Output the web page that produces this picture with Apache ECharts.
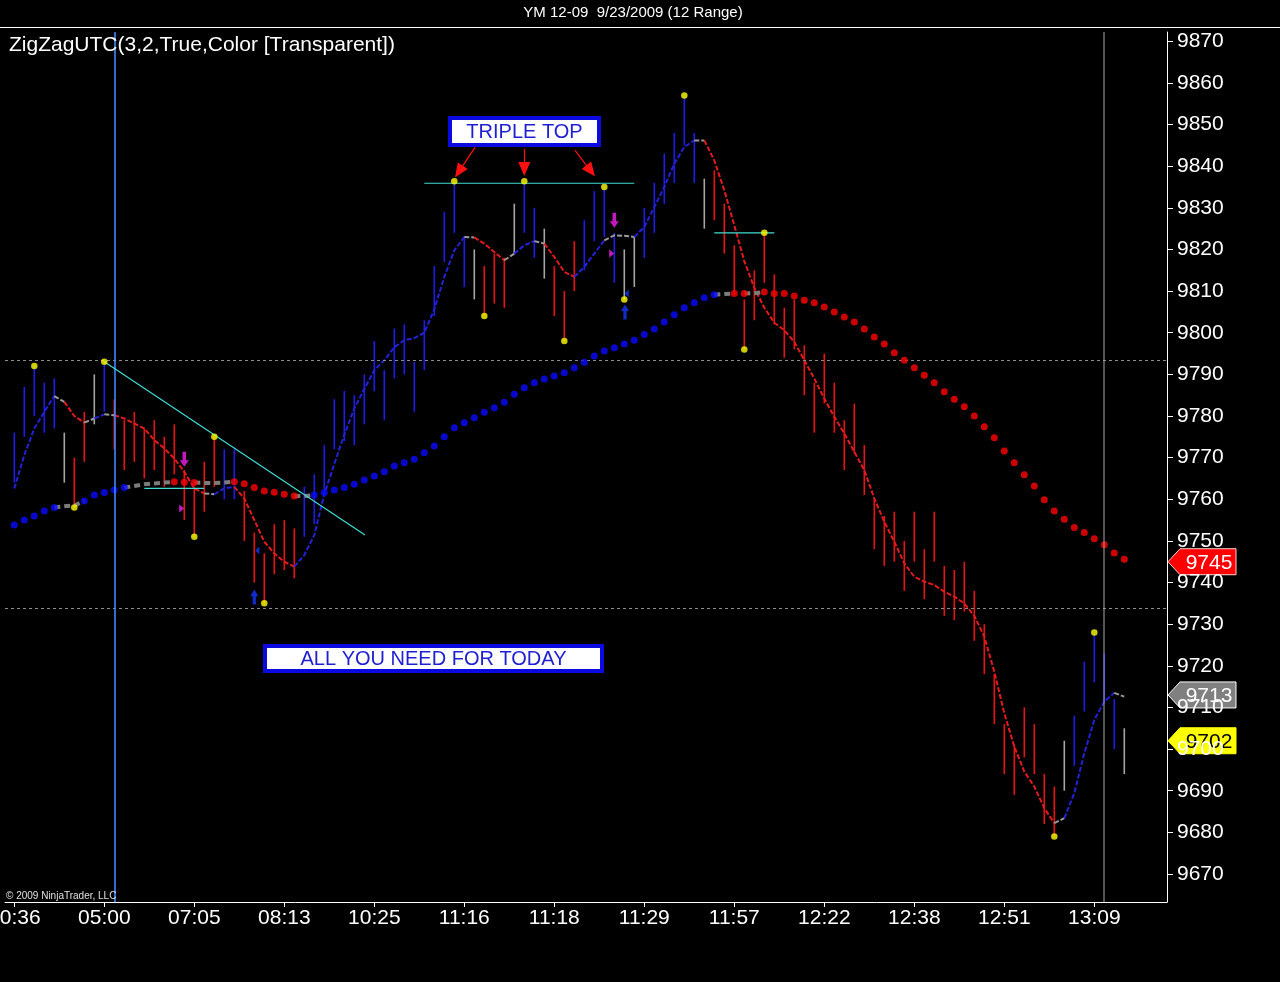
<!DOCTYPE html>
<html><head><meta charset="utf-8">
<script src="https://cdn.jsdelivr.net/npm/echarts@6/dist/echarts.min.js"></script>
<style>html,body{margin:0;padding:0;background:#000;overflow:hidden}#c{width:1280px;height:982px}</style>
</head><body><div id="c"></div>
<script>
// ---------- DATA ----------
const timeLabels = ["10:36","05:00","07:05","08:13","10:25","11:16","11:18","11:29","11:57","12:22","12:38","12:51","13:09"];
const timeTickIdx = [0,9,18,27,36,45,54,63,72,81,90,99,108];
const priceTicks = [9670,9680,9690,9700,9710,9720,9730,9740,9750,9760,9770,9780,9790,9800,9810,9820,9830,9840,9850,9860,9870];

const barHigh = [
 9776,9787,9792,9788,9789,9776,9770,9781,9790,9793,
 9784,9779,9781,9777,9779,9775,9778,9767,9763,9769,
 9775,9772,9772,9762,9752,9747,9754,9755,9753,9763,
 9766,9773,9784,9786,9785,9790,9798,9791,9801,9802,
 9793,9803,9816,9829,9836,9823,9820,9816,9819,9818,
 9831,9836,9830,9825,9816,9810,9822,9827,9834,9835,
 9824,9820,9823,9830,9836,9843,9848,9857,9848,9837,
 9839,9831,9821,9808,9815,9824,9814,9806,9808,9797,
 9788,9795,9788,9779,9783,9773,9760,9756,9757,9750,
 9757,9748,9757,9744,9743,9745,9738,9730,9718,9706,
 9701,9710,9706,9694,9691,9702,9708,9721,9728,9723,
 9712,9705];
const barLow = [
 9764,9775,9780,9776,9777,9764,9758,9769,9778,9781,
 9772,9767,9769,9765,9767,9763,9766,9755,9751,9757,
 9763,9760,9760,9750,9740,9735,9742,9743,9741,9751,
 9754,9761,9772,9774,9773,9778,9786,9779,9789,9790,
 9781,9791,9804,9817,9824,9811,9808,9804,9807,9806,
 9819,9824,9818,9813,9804,9798,9810,9815,9822,9823,
 9812,9808,9811,9818,9824,9831,9836,9845,9836,9825,
 9827,9819,9809,9796,9803,9812,9802,9794,9796,9785,
 9776,9783,9776,9767,9771,9761,9748,9744,9745,9738,
 9745,9736,9745,9732,9731,9733,9726,9718,9706,9694,
 9689,9698,9694,9682,9679,9690,9696,9709,9716,9711,
 9700,9694];
// b = up (blue), r = down (red), g = neutral (gray)
const barColor = ["bbbbbgrrgb","rrrrrrrrrr","rbbrrrrrrb","bbbbbbbbbb","bbbbbbgrrr",
                  "gbbgrrrbbb","bggbbbbbbg","rrrrrrrrrr","rrrrrrrrrr","rrrrrrrrrr","rrrrrgbbbb","bg"].join("");

const smoothLine = [
 9762.6,9770.6,9777.0,9781.0,9784.8,9783.4,9780.0,9778.4,9779.4,9780.4,
 9780.2,9779.4,9778.2,9777.0,9774.2,9772.2,9769.8,9766.6,9762.6,9761.4,
 9761.2,9762.6,9763.0,9760.2,9755.0,9749.8,9747.0,9745.0,9743.8,9746.6,
 9751.4,9761.2,9768.5,9775.5,9781.8,9786.5,9791.0,9793.4,9796.5,9798.2,
 9798.7,9800.0,9805.6,9813.4,9819.8,9823.0,9822.9,9821.4,9819.4,9817.4,
 9819.0,9821.0,9822.0,9821.4,9818.2,9814.6,9813.4,9815.8,9819.0,9822.2,
 9823.4,9823.3,9823.0,9825.4,9830.2,9835.0,9840.6,9844.6,9846.2,9846.2,
 9841.4,9834.2,9825.8,9817.2,9810.8,9806.0,9802.4,9800.6,9797.8,9793.4,
 9789.0,9784.2,9779.8,9775.8,9771.4,9767.0,9760.2,9754.6,9749.8,9744.6,
 9741.4,9740.2,9739.4,9737.8,9736.6,9735.0,9732.0,9727.0,9718.6,9708.6,
 9700.6,9694.6,9691.0,9685.8,9682.2,9683.4,9689.4,9699.0,9707.0,9711.4,
 9713.5,9712.6];
const smoothColor = ["bbbbbgrrgb","grrrrrrrrr","gbbrrrrrrb","bbbbbbbbbb","bbbbbbgrrr",
                     "gbbgrrrbbb","gggbbbbbbg","rrrrrrrrrr","rrrrrrrrrr","rrrrrrrrrr","rrrrrgbbbb","bg"].join("");

const maValues = [
 9753.8,9755.0,9756.0,9757.2,9758.0,9758.3,9758.5,9759.6,9761.0,9761.6,
 9762.2,9762.8,9763.2,9763.6,9763.8,9764.0,9764.2,9764.1,9764.0,9763.9,
 9763.9,9764.0,9764.2,9763.7,9762.8,9762.0,9761.7,9761.2,9760.8,9760.8,
 9761.0,9761.6,9762.2,9762.8,9763.6,9764.6,9765.6,9766.6,9768.0,9768.8,
 9769.6,9771.2,9772.8,9775.0,9777.2,9778.4,9779.6,9780.9,9782.0,9783.3,
 9785.2,9786.8,9788.0,9788.9,9789.6,9790.4,9791.6,9792.9,9794.4,9795.6,
 9796.4,9797.3,9798.2,9799.6,9800.9,9802.6,9804.3,9806.0,9807.2,9808.4,
 9809.1,9809.3,9809.4,9809.4,9809.5,9809.8,9809.4,9809.4,9808.8,9807.8,
 9807.2,9806.2,9805.0,9803.8,9802.6,9800.9,9799.0,9797.3,9795.2,9793.4,
 9791.6,9789.8,9788.0,9785.8,9784.0,9782.2,9780.0,9777.4,9774.8,9771.6,
 9768.8,9765.9,9763.2,9759.9,9757.2,9755.2,9753.2,9752.0,9750.5,9749.1,
 9747.1,9745.6];
const maColor = ["bbbbbggbbb","bbggggrrrg","ggrrrrrrrg","bbbbbbbbbb","bbbbbbbbbb","bbbbbbbbbb",
                 "bbbbbbbbbb","bgrrgrrrrr","rrrrrrrrrr","rrrrrrrrrr","rrrrrrrrrr","rr"].join("");

const swingPoints = [[2,9792],[6,9758],[9,9793],[18,9751],[20,9775],[25,9735],[44,9836.4],[47,9804],
                     [51,9836.4],[55,9798],[59,9835],[61,9808],[67,9857],[73,9796],[75,9824],[104,9679],[108,9728]];

const sellArrows  = [[17,9769.6],[60,9827]];
const sellFlags   = [[16.74,9757.8],[59.74,9819]];
const buyArrows   = [[24,9736.5],[61.07,9805]];
const buyFlags    = [[24.3,9747.7],[61.24,9809.4]];

const trendLines = [[[9,9793],[35.07,9751.4]],[[13,9762.6],[19,9762.6]],[[41,9835.9],[62,9835.9]],[[70,9824],[76,9824]]];
const pointerLines = [[[46.07,9844.5],[44.46,9838.7]],[[51,9844.1],[51,9839.3]],[[56.07,9843.8],[57.64,9838.9]]];
const dayLevels = [9793.4,9733.9];
const sessionMark = 10.07;
const cursorMark = 108.97;

const lastMA = 9745, lastSmooth = 9713, lastClose = 9702;

// ---------- CHART ----------
const chart = echarts.init(document.getElementById('c'), null, {renderer:'canvas', width:1280, height:982});
const barCol = {b:'#1c1cec', r:'#e81212', g:'#a4a4a4'};
const lineCol = {b:'#2222d6', r:'#e21c1c', g:'#9a9a9a'};
const CYAN = '#40dcd2';

const series = [];
series.push({
  type:'custom', z:2, clip:true, silent:true,
  data: barHigh.map((h,i)=>[i,h,barLow[i]]),
  encode:{x:0,y:[1,2]},
  renderItem:(params, api)=>{
    const i = params.dataIndex;
    const t = api.coord([api.value(0), api.value(1)]);
    const b = api.coord([api.value(0), api.value(2)]);
    return {type:'line', shape:{x1:t[0],y1:t[1],x2:b[0],y2:b[1]}, style:{stroke:barCol[barColor[i]], lineWidth:1.6}};
  }
});
// smoothed line, one series per colour run
{
  let k = 1;
  while (k < smoothLine.length) {
    const c = smoothColor[k]; let e = k;
    while (e + 1 < smoothLine.length && smoothColor[e+1] === c) e++;
    const pts = [];
    for (let i = k-1; i <= e; i++) pts.push([i, smoothLine[i]]);
    series.push({type:'line', z:3, silent:true, data:pts, showSymbol:false, symbol:'none',
      lineStyle:{color:lineCol[c], width:2, type:[5,2]}});
    k = e + 1;
  }
}
// moving average: gray transitions
{
  let k = 0;
  while (k < maValues.length) {
    if (maColor[k] !== 'g') { k++; continue; }
    let e = k;
    while (e + 1 < maValues.length && maColor[e+1] === 'g') e++;
    const pts = [];
    for (let i = Math.max(0,k-1); i <= Math.min(maValues.length-1, e+1); i++) pts.push([i, maValues[i]]);
    series.push({type:'line', z:4, silent:true, data:pts, showSymbol:false, symbol:'none',
      lineStyle:{color:'#7c7c7c', width:4, type:[6,4]}});
    k = e + 1;
  }
}
series.push({type:'scatter', z:5, silent:true, symbolSize:7, itemStyle:{color:'#0a0aff'},
  data: maValues.map((v,i)=>maColor[i]==='b'?[i,v]:null).filter(Boolean)});
series.push({type:'scatter', z:5, silent:true, symbolSize:7, itemStyle:{color:'#ff0000'},
  data: maValues.map((v,i)=>maColor[i]==='r'?[i,v]:null).filter(Boolean)});
// markers
series.push({type:'scatter', z:6, silent:true, symbol:'path://M3,0L7,0L7,9L10,9L5,16L0,9L3,9Z', symbolSize:[9,15],
  itemStyle:{color:'#f020f0'}, data:sellArrows});
series.push({type:'scatter', z:6, silent:true, symbol:'path://M0,0L7,4L0,8Z', symbolSize:[5,8],
  itemStyle:{color:'#f020f0'}, data:sellFlags});
series.push({type:'scatter', z:6, silent:true, symbol:'path://M5,0L10,7L7,7L7,16L3,16L3,7L0,7Z', symbolSize:[8,15],
  itemStyle:{color:'#1438ff'}, data:buyArrows});
series.push({type:'scatter', z:6, silent:true, symbol:'path://M7,0L0,4L7,8Z', symbolSize:[4,8],
  itemStyle:{color:'#1438ff'}, data:buyFlags});
// reference levels (dashed)
series.push({type:'line', z:7, silent:true, data:[], symbol:'none', itemStyle:{color:'#8c8c8c'},
  markLine:{silent:true, symbol:'none', animation:false, label:{show:false},
    lineStyle:{color:'#8c8c8c', width:1, type:[3,3]},
    data: dayLevels.map(v=>({yAxis:v}))}
});
// vertical time marks (session start blue, cursor gray) drawn over full plot height
const vColors = ['#3f86ff', '#a8a8a8'];
const vWidths = [1.6, 1];
series.push({
  type:'custom', z:7, silent:true, clip:true,
  data:[[sessionMark],[cursorMark]], encode:{x:0},
  renderItem:(params, api)=>{
    const cs = params.coordSys;
    const x = api.coord([api.value(0), 9800])[0];
    return {type:'line', shape:{x1:x, y1:cs.y, x2:x, y2:cs.y+cs.height},
      style:{stroke:vColors[params.dataIndex], lineWidth:vWidths[params.dataIndex]}};
  }
});
// trend lines
trendLines.forEach(l=>{
  series.push({type:'line', z:7, silent:true, data:l, showSymbol:false, symbol:'none',
    lineStyle:{color:CYAN, width:1.2, type:'solid'}});
});
// swing points
series.push({type:'scatter', z:8, silent:true, symbolSize:6.5, itemStyle:{color:'#ffff00'}, data:swingPoints});
// pointer arrows
series.push({type:'line', z:9, silent:true, data:[], symbol:'none', itemStyle:{color:'#ff1010'},
  markLine:{silent:true, symbol:['none','triangle'], symbolSize:[12,14], animation:false, label:{show:false},
    lineStyle:{color:'#ff1010', width:1.2, type:'solid', opacity:1},
    data: pointerLines.map(l=>[{coord:l[0]},{coord:l[1]}])}
});

const option = {
  backgroundColor:'#000',
  animation:false,
  grid:{left:5, right:113, top:32, bottom:80, containLabel:false, outerBoundsMode:'none'},
  xAxis:{type:'value', min:-0.93, max:115.27,
    axisLine:{show:true, onZero:false, lineStyle:{color:'#ffffff', width:1}},
    axisTick:{show:true, customValues:timeTickIdx, length:5, lineStyle:{color:'#ffffff'}},
    axisLabel:{show:true, customValues:timeTickIdx, color:'#ffffff', fontSize:21, fontFamily:'Liberation Sans, Arial, sans-serif', margin:6,
      formatter:(v)=>{const i=timeTickIdx.indexOf(Math.round(v)); return i>=0?timeLabels[i]:'';}},
    splitLine:{show:false}},
  yAxis:{type:'value', position:'right', min:9663.27, max:9872.23, scale:true,
    axisLine:{show:true, onZero:false, lineStyle:{color:'#ffffff', width:1}},
    axisTick:{show:true, customValues:priceTicks, length:6, lineStyle:{color:'#ffffff'}},
    axisLabel:{show:true, customValues:priceTicks, color:'#ffffff', fontSize:21, fontFamily:'Liberation Sans, Arial, sans-serif', margin:10,
      formatter:(v)=>String(Math.round(v))},
    splitLine:{show:false}},
  series: series
};
chart.setOption(option);

// ---------- ANNOTATIONS ----------
const axisX = chart.convertToPixel({xAxisIndex:0}, 115.27);
function priceTag(id, value, fill, stroke, textColor){
  const y = chart.convertToPixel({yAxisIndex:0}, value);
  const x0 = axisX + 1;
  return {type:'group', id:id, z:100, children:[
    {type:'polygon', shape:{points:[[x0,y],[x0+12,y-13],[x0+68,y-13],[x0+68,y+13],[x0+12,y+13]]},
      style:{fill:fill, stroke:stroke, lineWidth:1}},
    {type:'text', x:x0+41, y:y+1, style:{text:String(value), fill:textColor, font:'21px "Liberation Sans", Arial, sans-serif',
      textAlign:'center', textVerticalAlign:'middle'}}
  ]};
}
function boxText(id, x, y, w, h, text){
  return {type:'group', id:id, z:100, children:[
    {type:'rect', shape:{x:x, y:y, width:w, height:h}, style:{fill:'#ffffff', stroke:'#0a0ae0', lineWidth:4}},
    {type:'text', x:x+w/2, y:y+h/2+1, style:{text:text, fill:'#1e1ed2', font:'20px "Liberation Sans", Arial, sans-serif',
      textAlign:'center', textVerticalAlign:'middle'}}
  ]};
}
chart.setOption({graphic:[
  {type:'line', id:'topline', z:100, shape:{x1:0,y1:27.5,x2:1280,y2:27.5}, style:{stroke:'#ffffff', lineWidth:1}},
  {type:'text', id:'title', z:100, x:633, y:13, style:{text:'YM 12-09  9/23/2009 (12 Range)', fill:'#ffffff',
    font:'15px "Liberation Sans", Arial, sans-serif', textAlign:'center', textVerticalAlign:'middle'}},
  {type:'text', id:'ind', z:100, x:9, y:45, style:{text:'ZigZagUTC(3,2,True,Color [Transparent])', fill:'#ffffff',
    font:'21px "Liberation Sans", Arial, sans-serif', textAlign:'left', textVerticalAlign:'middle'}},
  {type:'text', id:'copy', z:100, x:6, y:896, style:{text:'\u00a9 2009 NinjaTrader, LLC', fill:'#e0e0e0',
    font:'10px "Liberation Sans", Arial, sans-serif', textAlign:'left', textVerticalAlign:'middle'}},
  boxText('b1', 450, 118, 149, 27, 'TRIPLE TOP'),
  boxText('b2', 265, 646, 337, 25, 'ALL YOU NEED FOR TODAY'),
  priceTag('t1', lastMA, '#ff0000', '#ffd0d0', '#ffffff'),
  priceTag('t2', lastSmooth, '#808080', '#ffffff', '#ffffff'),
  priceTag('t3', lastClose, '#ffff00', '#ffff00', '#000000')
]});
</script>
</body></html>
